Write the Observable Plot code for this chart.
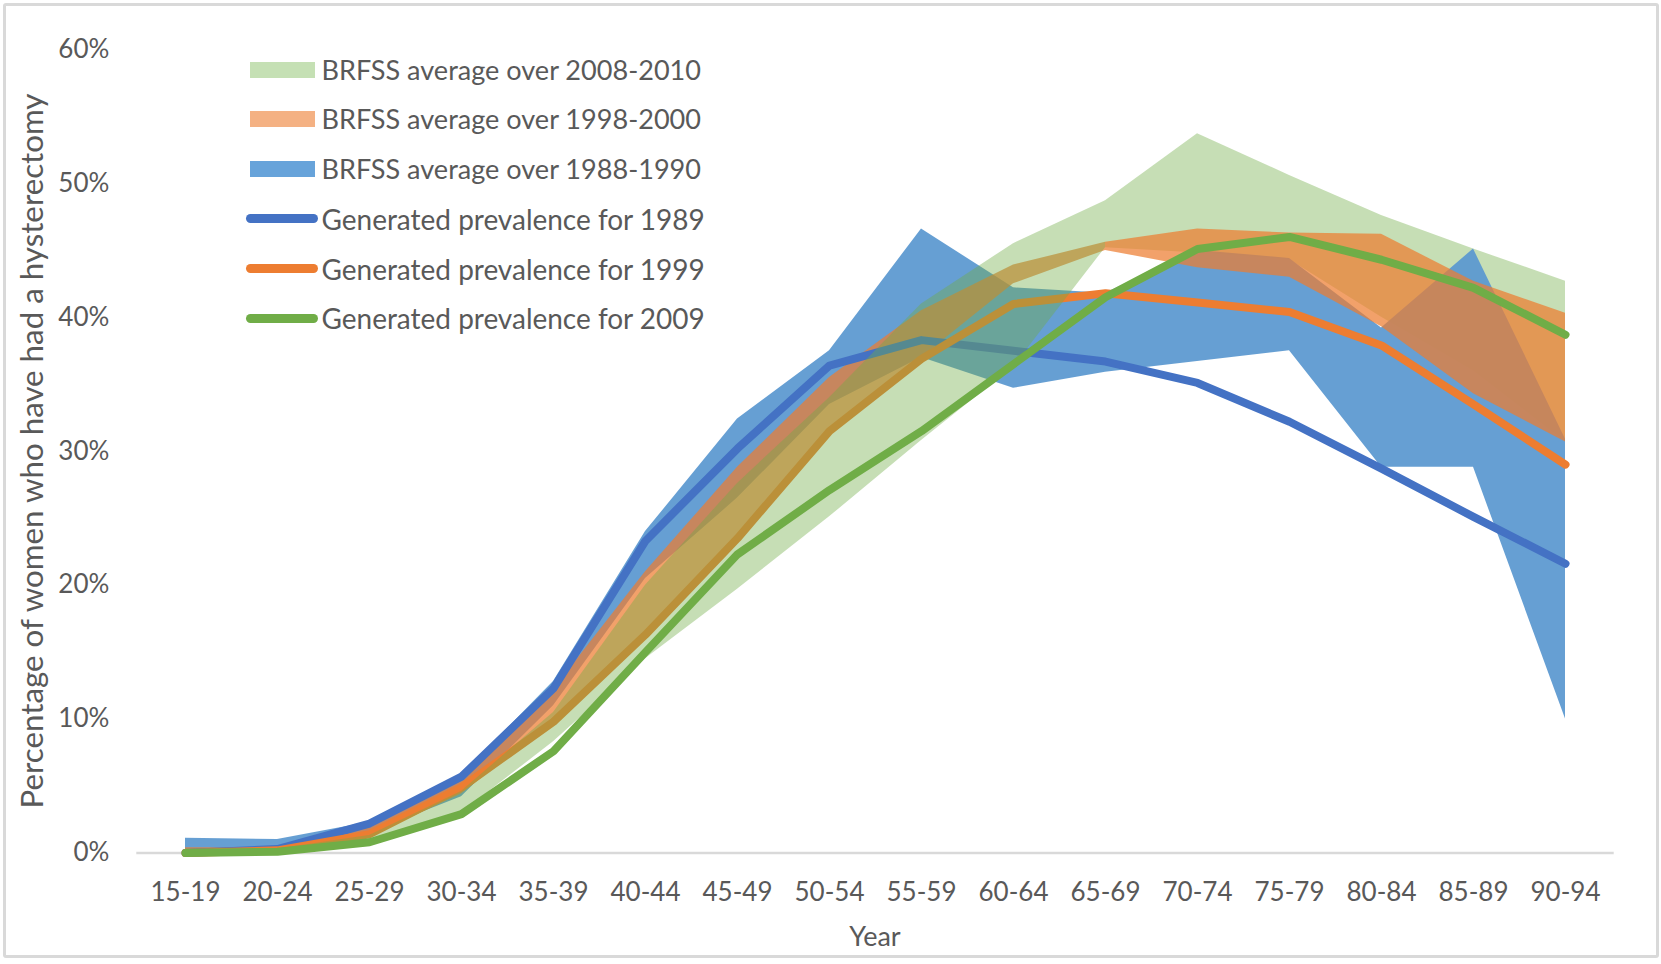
<!DOCTYPE html>
<html>
<head>
<meta charset="utf-8">
<script src="https://cdn.jsdelivr.net/npm/d3@7"></script>
<script src="https://cdn.jsdelivr.net/npm/@observablehq/plot@0.6"></script>
<style>
html,body{margin:0;padding:0;background:#fff;}
#chart{position:relative;width:1661px;height:964px;overflow:hidden;font-family:Lato,"Open Sans",sans-serif;color:#595959;}
#border{position:absolute;left:3px;top:3px;width:1656px;height:955px;border:3px solid #d9d9d9;border-radius:3px;box-sizing:border-box;pointer-events:none;}
.t{position:absolute;white-space:nowrap;line-height:1;}
#chart svg{position:absolute;left:0;top:0;}
</style>
</head>
<body>
<div id="chart"><div id="border"></div></div>
<script>
// ---- data (percent) ----
const ageGroups = ["15-19","20-24","25-29","30-34","35-39","40-44","45-49","50-54","55-59","60-64","65-69","70-74","75-79","80-84","85-89","90-94"];

const gen1989 = [0, 0.3, 2.2, 5.7, 12.3, 23.3, 30.2, 36.4, 38.3, 37.5, 36.7, 35.1, 32.2, 28.7, 25.1, 21.6];
const gen1999 = [0, 0.2, 1.4, 4.9, 9.8, 16.3, 23.5, 31.5, 36.9, 41.0, 41.8, 41.1, 40.4, 37.9, 33.5, 29.0];
const gen2009 = [0, 0.1, 0.8, 2.9, 7.6, 15.0, 22.3, 27.1, 31.5, 36.5, 41.5, 45.1, 46.0, 44.3, 42.2, 38.7];

const brfss1989Low  = [0, 0, 1.5, 4.2, 11.0, 20.5, 26.5, 33.5, 37.0, 34.7, 35.9, 36.7, 37.5, 28.8, 28.8, 10.0];
const brfss1989High = [1.1, 1.0, 2.3, 5.8, 12.8, 24.0, 32.4, 37.5, 46.6, 42.2, 41.8, 45.0, 44.4, 39.2, 45.1, 30.9];

const brfss1999Low  = [0, 0, 1.2, 4.4, 9.8, 16.5, 23.6, 31.3, 37.0, 42.5, 45.0, 43.7, 43.0, 39.3, 34.3, 30.7];
const brfss1999High = [0.4, 0.4, 1.9, 5.4, 12.2, 21.0, 28.8, 35.5, 40.5, 43.9, 45.6, 46.6, 46.3, 46.2, 42.7, 40.3];

const brfss2009Low  = [0, 0, 0.5, 3.0, 8.3, 14.5, 19.7, 25.1, 30.8, 36.3, 45.2, 44.8, 44.3, 40.0, 36.0, 30.7];
const brfss2009High = [0.3, 0.3, 1.3, 4.6, 10.5, 20.0, 27.6, 34.0, 41.0, 45.5, 48.7, 53.7, 50.6, 47.6, 45.1, 42.7];

const yTicks = [0, 10, 20, 30, 40, 50, 60];

const legendItems = [
  {label: "BRFSS average over 2008-2010", kind: "band", color: "#c5e0b4"},
  {label: "BRFSS average over 1998-2000", kind: "band", color: "#f4b183"},
  {label: "BRFSS average over 1988-1990", kind: "band", color: "#67a3da"},
  {label: "Generated prevalence for 1989", kind: "line", color: "#4472C4"},
  {label: "Generated prevalence for 1999", kind: "line", color: "#ED7D31"},
  {label: "Generated prevalence for 2009", kind: "line", color: "#70AD47"}
];

const yTitle = "Percentage of women who have had a hysterectomy";
const xTitle = "Year";

// ---- tables ----
const bandTable = (lo, hi) => ageGroups.map((age, i) => ({age, low: lo[i], high: hi[i]}));
const lineTable = (v) => ageGroups.map((age, i) => ({age, value: v[i]}));

const blueBand = bandTable(brfss1989Low, brfss1989High);
const orangeBand = bandTable(brfss1999Low, brfss1999High);
const greenBand = bandTable(brfss2009Low, brfss2009High);
const split = ageGroups.indexOf("65-69");

const W = 1661, H = 964;
const mL = 136.3, mR = 47.3, mT = 49, mB = 111.5;

const lineOpts = (stroke) => ({x: "age", y: "value", stroke, strokeWidth: 8, strokeLinecap: "round", strokeLinejoin: "round"});

const plot = Plot.plot({
  width: W, height: H,
  marginLeft: mL, marginRight: mR, marginTop: mT, marginBottom: mB,
  style: {fontFamily: "Lato, 'Open Sans', sans-serif", fontSize: "26px", color: "#595959", background: "transparent", overflow: "visible"},
  x: {type: "point", domain: ageGroups, padding: 0.5, label: null},
  y: {domain: [0, 60], label: null},
  marks: [
    Plot.areaY(greenBand.slice(split), {x: "age", y1: "low", y2: "high", fill: "#70AD47", fillOpacity: 0.4}),
    Plot.areaY(blueBand, {x: "age", y1: "low", y2: "high", fill: "#5a98d0", fillOpacity: 0.93}),
    Plot.areaY(orangeBand, {x: "age", y1: "low", y2: "high", fill: "#ED7D31", fillOpacity: 0.72}),
    Plot.ruleY([0], {stroke: "#d9d9d9", strokeWidth: 2.5}),
    Plot.line(lineTable(gen1989), lineOpts("#4472C4")),
    Plot.line(lineTable(gen1999), lineOpts("#ED7D31")),
    Plot.areaY(greenBand.slice(0, split + 1), {x: "age", y1: "low", y2: "high", fill: "#70AD47", fillOpacity: 0.4}),
    Plot.line(lineTable(gen2009), lineOpts("#70AD47")),
    Plot.axisY({ticks: yTicks, tickFormat: d => d + "%", tickSize: 0, tickPadding: 27.5, label: null}),
    Plot.axisX({tickSize: 0, tickPadding: 30, label: null})
  ]
});

const chart = document.getElementById("chart");
chart.insertBefore(plot, chart.firstChild);

// ---- legend (HTML overlay inside plot area) ----
const legTop = 69.5, legStep = 49.76;
legendItems.forEach((it, i) => {
  const cy = legTop + i * legStep;
  const sw = document.createElement("div");
  sw.style.position = "absolute";
  if (it.kind === "band") {
    Object.assign(sw.style, {left: "249.5px", top: (cy - 8) + "px", width: "65px", height: "16px", background: it.color});
  } else {
    Object.assign(sw.style, {left: "246px", top: (cy - 4.5) + "px", width: "72px", height: "9px", background: it.color, borderRadius: "4.5px"});
  }
  chart.appendChild(sw);
  const tx = document.createElement("div");
  tx.className = "t";
  tx.textContent = it.label;
  Object.assign(tx.style, {left: "321.5px", top: cy + "px", fontSize: "27px", transform: "translateY(-50%)"});
  chart.appendChild(tx);
  // fit each label to the width it spans in the reference
  const target = it.kind === "band" ? 380 : 383.5;
  tx.style.fontSize = (27 * target / tx.offsetWidth) + "px";
});

// ---- axis titles ----
const yt = document.createElement("div");
yt.className = "t";
yt.textContent = yTitle;
Object.assign(yt.style, {left: "32px", top: ((mT + (H - mB)) / 2) + "px", fontSize: "30px"});
chart.appendChild(yt);
{
  const w = yt.offsetWidth;
  yt.style.fontSize = (30 * 715 / w) + "px";
  yt.style.transform = "translate(-50%,-50%) rotate(-90deg)";
}

const xt = document.createElement("div");
xt.className = "t";
xt.textContent = xTitle;
Object.assign(xt.style, {left: ((mL + (W - mR)) / 2) + "px", top: "934.5px", fontSize: "27px", transform: "translate(-50%,-50%)"});
chart.appendChild(xt);
</script>
</body>
</html>
